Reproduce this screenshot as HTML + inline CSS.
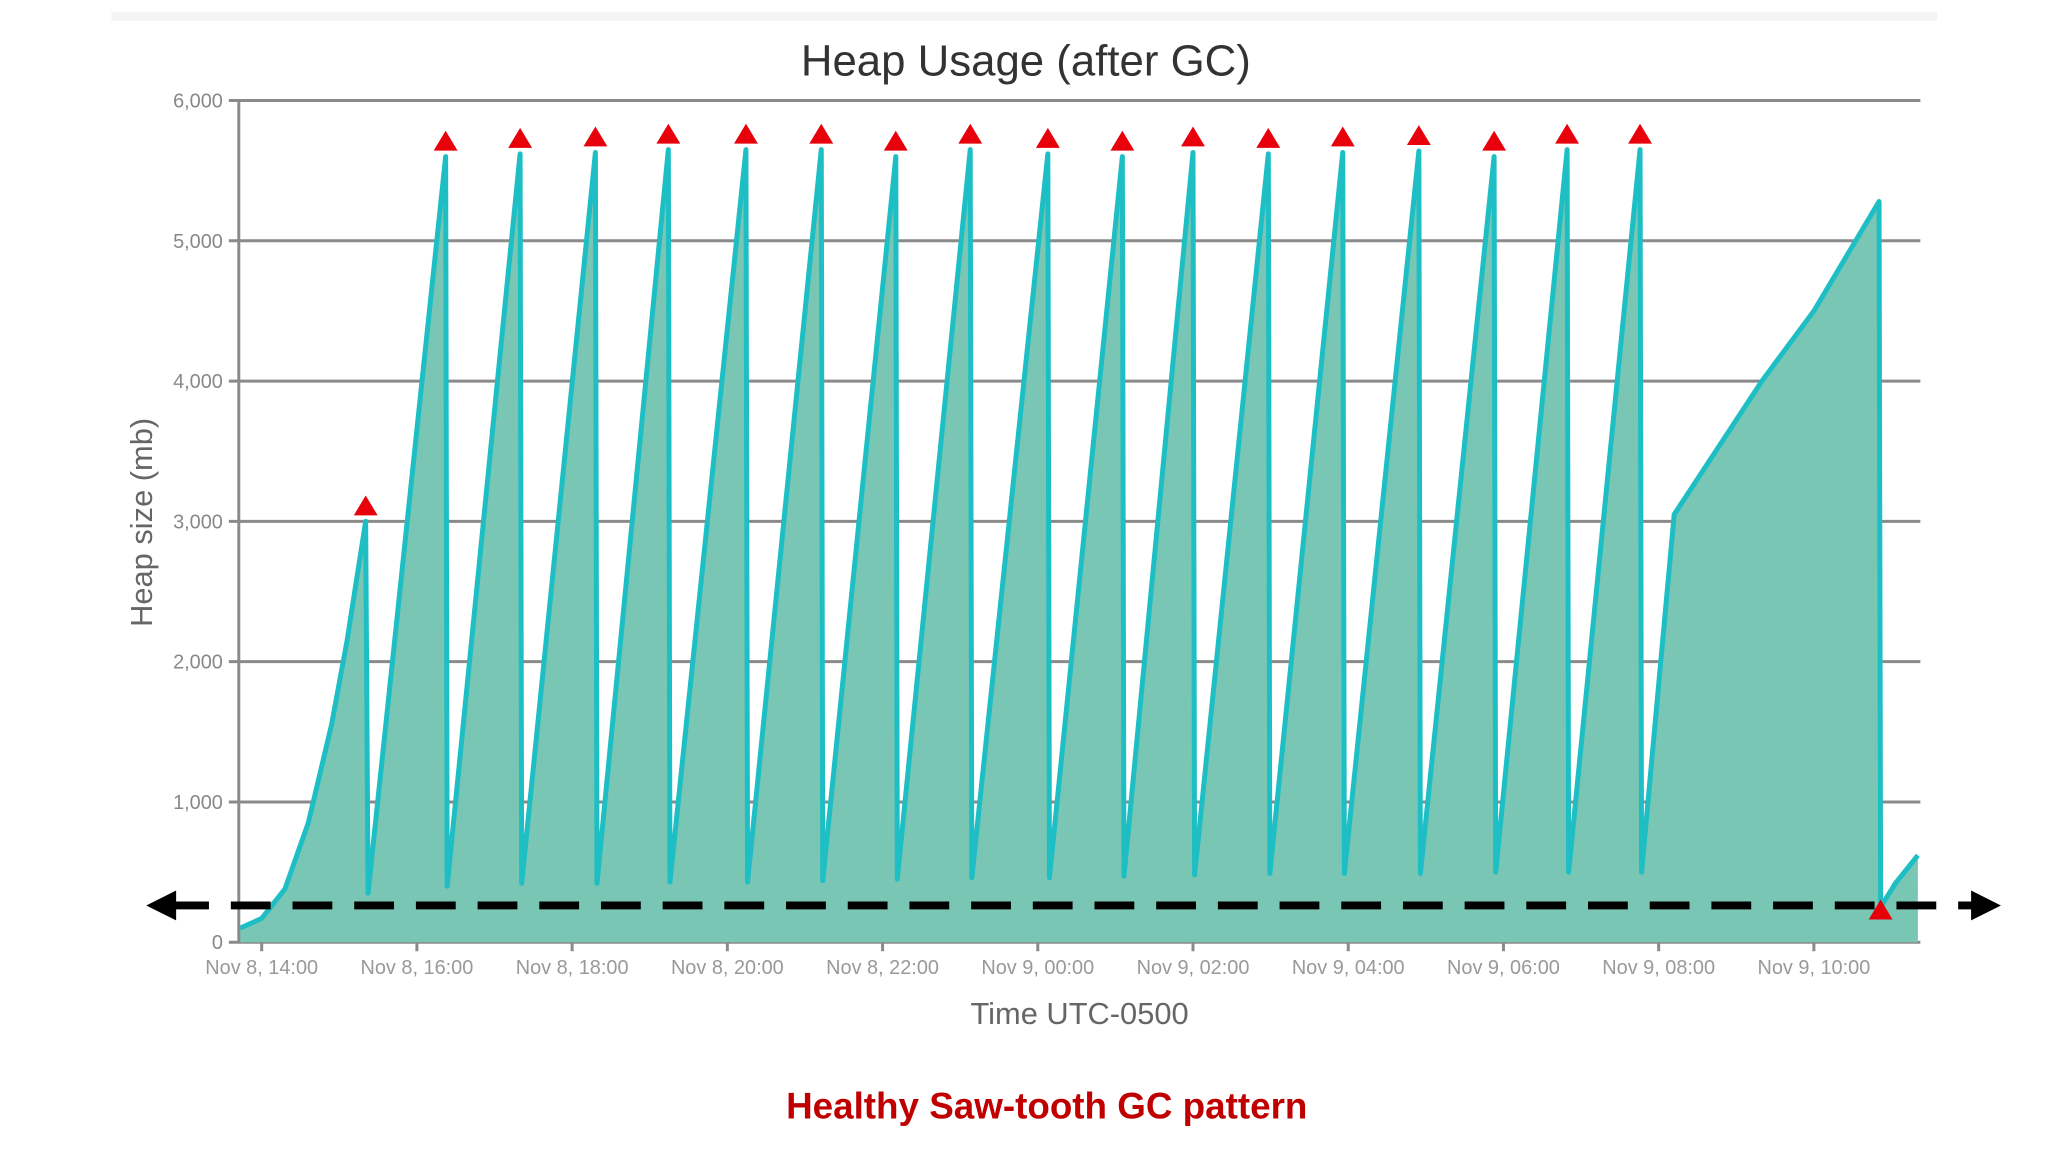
<!DOCTYPE html>
<html><head><meta charset="utf-8"><style>
html,body{margin:0;padding:0;background:#fff;}
svg{display:block;font-family:"Liberation Sans",sans-serif;}
</style></head><body>
<svg id="chart" width="2048" height="1152" viewBox="0 0 2048 1152" xmlns="http://www.w3.org/2000/svg">
<g transform="scale(0.995)">
<rect x="112" y="12" width="1835" height="9" fill="#f4f4f4"/>
<text x="1031" y="76" text-anchor="middle" font-size="44" fill="#333">Heap Usage (after GC)</text>
<g id="grid"></g>
<g id="series"></g>
<g id="markers"></g>
<g id="axes"></g>
<text transform="translate(153,525) rotate(-90)" text-anchor="middle" font-size="31" fill="#666">Heap size (mb)</text>
<text x="1085" y="1029" text-anchor="middle" font-size="31" fill="#666">Time UTC-0500</text>
<g>
<line x1="170" y1="910" x2="1990" y2="910" stroke="#000" stroke-width="8" stroke-dasharray="40,22"/>
<polygon points="147,910 177,895 177,925" fill="#000"/>
<polygon points="2011,910 1981,895 1981,925" fill="#000"/>
</g>
<text x="1052" y="1124" text-anchor="middle" font-size="37" font-weight="bold" fill="#c00000">Healthy Saw-tooth GC pattern</text>
</g>
</svg>
<script>
// hours since Nov 8, 14:00
const times = [-0.28,0,0.3,0.6,0.9,1.1,1.34,1.37,2.37,2.39,3.33,3.35,4.30,4.32,5.24,5.26,6.24,6.26,7.21,7.23,8.17,8.19,9.13,9.15,10.13,10.15,11.09,11.11,12.0,12.02,12.97,12.99,13.93,13.95,14.91,14.93,15.88,15.90,16.82,16.84,17.76,17.78,18.2,19.33,20.0,20.84,20.86,21.05,21.34];
const heapValues = [100,170,380,850,1550,2150,3000,350,5600,400,5620,420,5630,420,5650,430,5650,430,5650,440,5600,450,5650,460,5620,460,5600,470,5630,480,5620,490,5630,490,5640,490,5600,500,5650,500,5650,500,3050,4000,4500,5280,250,420,620];
const gcTimes = [1.34,2.37,3.33,4.30,5.24,6.24,7.21,8.17,9.13,10.13,11.09,12.0,12.97,13.93,14.91,15.88,16.82,17.76,20.86];
const gcValues = [3000,5600,5620,5630,5650,5650,5650,5600,5650,5620,5600,5630,5620,5630,5640,5600,5650,5650,120];
const yTicks = [0,1000,2000,3000,4000,5000,6000];
const yTickLabels = ["0","1,000","2,000","3,000","4,000","5,000","6,000"];
const xTicks = [0,2,4,6,8,10,12,14,16,18,20];
const xTickLabels = ["Nov 8, 14:00","Nov 8, 16:00","Nov 8, 18:00","Nov 8, 20:00","Nov 8, 22:00","Nov 9, 00:00","Nov 9, 02:00","Nov 9, 04:00","Nov 9, 06:00","Nov 9, 08:00","Nov 9, 10:00"];

const X0=240, X1=1930, Y0=947, Y1=101;
const xs = t => 263 + t*78;
const ys = v => Y0 - (v/6000)*(Y0-Y1);
const NS="http://www.w3.org/2000/svg";
function mk(tag, attrs, parent){const e=document.createElementNS(NS,tag);for(const k in attrs)e.setAttribute(k,attrs[k]);parent.appendChild(e);return e;}
const grid=document.getElementById('grid'), axes=document.getElementById('axes'), series=document.getElementById('series'), markers=document.getElementById('markers');

yTicks.forEach((v,i)=>{
  const y=ys(v);
  const g=mk('line',{x1:X0-10,x2:X1,y1:y,y2:y,stroke:'#8a8a8a','stroke-width':3},grid);
  
  
  const t=mk('text',{x:X0-16,y:y+7,'text-anchor':'end','font-size':20,fill:'#888'},axes);
  t.textContent=yTickLabels[i];
  
  
});
const ax=mk('line',{x1:X0,x2:X0,y1:Y1,y2:Y0,stroke:'#8a8a8a','stroke-width':3},axes);


xTicks.forEach((tv,i)=>{
  const x=xs(tv);
  const tk=mk('line',{x1:x,x2:x,y1:Y0,y2:Y0+9,stroke:'#8a8a8a','stroke-width':3},axes);
  
  
  const t=mk('text',{x:x,y:979,'text-anchor':'middle','font-size':20,fill:'#999'},axes);
  t.textContent=xTickLabels[i];
  
  
});

let pts=times.map((t,i)=>xs(t).toFixed(1)+','+ys(heapValues[i]).toFixed(1));
let area='M'+xs(times[0])+','+Y0+' L'+pts.join(' L')+' L'+xs(times[times.length-1])+','+Y0+' Z';
const a=mk('path',{d:area,fill:'#79c6b5'},series);


const l=mk('polyline',{points:pts.join(' '),fill:'none',stroke:'#1dbec4','stroke-width':5,'stroke-linejoin':'round'},series);



gcTimes.forEach((t,i)=>{
  const x=xs(t), y=ys(gcValues[i])-6;
  const m=mk('polygon',{points:`${x},${y-20} ${x-12},${y} ${x+12},${y}`,fill:'#e8000b'},markers);
  
  
});
</script>
</body></html>
